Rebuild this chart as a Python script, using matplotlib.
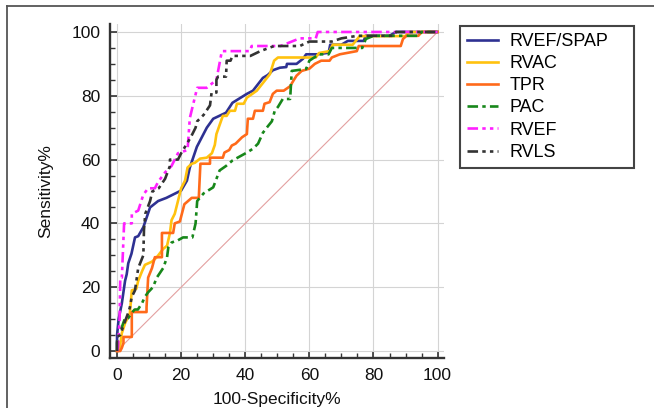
import matplotlib
matplotlib.use("Agg")
import matplotlib.pyplot as plt
from matplotlib.lines import Line2D
from matplotlib.ticker import MultipleLocator

plt.rcParams['font.family'] = ['Liberation Sans', 'DejaVu Sans']

# ---- data (100-Specificity %, Sensitivity %) ----
rvef_spap_x = [0, 0, 0.5, 1.5, 2.5, 3, 3.5, 4.5, 5.6, 6.6, 8.2, 10.3, 12.8, 15.4, 20, 21.8, 22.7, 24.9, 28, 30, 34, 36, 40.5, 42.4, 45.5, 47, 48.6, 50.8, 52.8, 53, 56, 58, 59, 62.7, 66, 66.5, 70, 72, 77, 77.5, 85, 87, 100]
rvef_spap_y = [0, 5, 10, 15, 22, 24, 27.5, 30.5, 35.6, 36, 38.8, 45, 47, 48, 50.3, 53.4, 57.5, 64, 70, 72.8, 74.7, 77.8, 80.6, 81.6, 85.6, 86.5, 88, 88.8, 89, 90, 90, 91.6, 93, 93, 93.5, 96, 96, 97.2, 97.2, 98.8, 98.8, 100, 100]

rvac_x = [0, 0.5, 1, 1.5, 2.5, 4, 4.6, 6, 6.6, 7.8, 8.7, 10.9, 12.4, 14.4, 15.6, 16.5, 17, 18, 19, 20, 21.2, 22, 23.3, 24.3, 25.9, 28, 29.6, 30.5, 31, 33, 34.2, 35.2, 36.8, 37.4, 39.5, 40.5, 43.6, 45.5, 47.7, 49, 50.2, 62, 63, 66.3, 67.3, 73.5, 75.7, 90, 91, 100]
rvac_y = [0, 0, 2, 5.6, 8.7, 11.8, 19, 19.5, 22, 25, 27, 28, 29.4, 32, 33, 37, 41, 43, 47, 51, 53.4, 57.5, 58.7, 59, 60.3, 60.6, 62, 64.6, 68, 73.7, 73.7, 75.3, 75.3, 77.5, 77.5, 79.4, 81.6, 84, 86.8, 91, 92, 92, 93.4, 94, 96, 96, 98.7, 98.7, 100, 100]

tpr_x = [0, 1, 1.5, 2, 2, 4.6, 4.6, 9.2, 9.2, 9.7, 10.9, 11.8, 14, 14, 17.5, 18, 19.6, 21, 23.3, 25.5, 26, 29, 29, 33, 33.5, 35, 35.8, 37, 39, 40.5, 40.8, 42.4, 43, 45.5, 46, 47.6, 48.6, 49.8, 52, 54, 55, 56, 57.6, 60, 61.7, 63.7, 66.3, 67, 69.5, 74.8, 75.4, 88.5, 89.2, 90.3, 94, 95, 100]
tpr_y = [0, 0, 1, 2.5, 4.4, 4.4, 12.2, 12.2, 13.7, 23, 26, 29.4, 29.4, 37, 37, 40, 40.6, 46, 48, 48, 58.7, 58.7, 60.6, 60.6, 62.2, 63, 64.4, 65, 67, 68, 72.8, 72.8, 75.3, 75.3, 77.5, 78, 80.6, 81.6, 81.6, 83, 84.7, 86.3, 87.8, 88.5, 90, 91, 91, 92, 93, 94, 95.6, 95.6, 97.8, 98.8, 98.8, 100, 100]

pac_x = [0, 0, 0.5, 1.5, 2.5, 3.5, 4.6, 5.5, 6.5, 7.8, 8.7, 9.7, 11.2, 12.4, 14.4, 15.6, 16, 17, 19, 20.6, 23.5, 24.5, 25, 27, 30, 32, 34, 36, 40.5, 42.4, 44, 45.5, 46.7, 48.3, 49.2, 50.2, 51.7, 54, 54.5, 59, 60, 63, 66, 67, 76.5, 77.6, 80, 94, 95, 100]
pac_y = [0, 2.5, 5.6, 7.5, 10.3, 10.3, 12, 13, 13, 15, 17, 18.4, 20, 23, 26, 29.4, 32.5, 34, 34.7, 35.6, 35.6, 40, 47, 49.4, 51.3, 56.6, 58, 59.7, 62.2, 63.4, 65, 68.4, 70, 72, 75.3, 76.5, 79, 79, 87.8, 88.4, 91, 93, 93, 95, 95, 97.8, 98.8, 98.8, 100, 100]

rvef_x = [0, 0.3, 0.8, 1, 1.5, 2.2, 4.6, 4.6, 6.6, 8.2, 9.7, 11.8, 12.8, 15, 17, 19, 22, 22.7, 25, 28, 31, 32.7, 41.4, 42, 51, 57, 62, 62.6, 100]
rvef_y = [0, 1, 10, 23, 23, 40, 40, 43, 44, 49, 51, 51, 53, 56, 58, 62, 63, 73, 82.5, 82.5, 85, 94, 94, 95.6, 95.6, 98, 98, 100, 100]

rvls_x = [0, 0, 1, 2, 3.5, 4, 4.6, 5.6, 6.6, 8.2, 8.4, 8.8, 10.3, 11, 13, 15, 16.5, 16.5, 19, 20, 23, 24.5, 25, 27, 29, 29.5, 31, 31, 31.5, 34, 34.2, 35.4, 36, 41.6, 44.7, 49, 57, 60, 67, 70, 75, 86, 87, 100]
rvls_y = [0, 4.4, 5, 8, 12, 13.7, 17, 19, 26, 30, 38, 43, 47, 50, 51, 54, 58, 60, 60, 62, 67, 70, 72, 74, 77, 81, 81, 85, 86, 86, 91, 91, 92.5, 92.5, 94, 95.6, 95.6, 97, 97, 98, 98.8, 98.8, 100, 100]

labels = ['RVEF/SPAP', 'RVAC', 'TPR', 'PAC', 'RVEF', 'RVLS']
ticks = [0, 20, 40, 60, 80, 100]

W, H = 654, 408
fig = plt.figure(figsize=(W / 100, H / 100), dpi=100)
fig.patch.set_facecolor('white')

ax = fig.add_axes([110 / W, 1 - 358 / H, (444 - 110) / W, (358 - 24) / H])
ax.set_xlim(-2.2, 102)
ax.set_ylim(-2.2, 102.5)

ax.grid(True, color='#d4d4d4', linewidth=0.8, zorder=0)
ax.set_axisbelow(True)
ax.plot([0, 100], [0, 100], color='#e3a0a0', linewidth=0.8, zorder=1)

dash_dot = (0, (4, 1.6, 1.3, 1.6))
dash_dot_dot = (0, (4, 1.6, 1.3, 1.6, 1.3, 1.6))
series = [
    (rvef_spap_x, rvef_spap_y, '#2e3192', '-'),
    (rvac_x, rvac_y, '#ffc20e', '-'),
    (tpr_x, tpr_y, '#ff6a1a', '-'),
    (pac_x, pac_y, '#17871a', dash_dot),
    (rvef_x, rvef_y, '#ff20ff', dash_dot_dot),
    (rvls_x, rvls_y, '#333333', dash_dot_dot),
]
handles = []
for (xs, ys, c, ls), lab in zip(series, labels):
    ax.plot(xs, ys, color=c, linestyle=ls, linewidth=1.9, zorder=3)
    handles.append(Line2D([], [], color=c, linestyle=ls, linewidth=1.9, label=lab))

for s in ['top', 'right']:
    ax.spines[s].set_visible(False)
for s in ['left', 'bottom']:
    ax.spines[s].set_color('#333333')
    ax.spines[s].set_linewidth(1.7)

ax.set_xticks(ticks)
ax.set_yticks(ticks)
ax.xaxis.set_minor_locator(MultipleLocator(5))
ax.yaxis.set_minor_locator(MultipleLocator(5))
ax.tick_params(which='major', direction='in', length=5, width=1.2, color='#333333',
               labelsize=12.5, pad=7, labelcolor='#111111')
ax.tick_params(which='minor', direction='in', length=3.5, width=1.0, color='#333333')

ax.set_xlabel('100-Specificity%', fontsize=12.5, color='#111111', labelpad=7)
ax.set_ylabel('Sensitivity%', fontsize=12.5, color='#111111', labelpad=13)

leg = ax.legend(handles=handles, loc='upper left',
                bbox_to_anchor=(460 / W, 1 - 162 / H, 174 / W, 136 / H),
                bbox_transform=fig.transFigure, mode='expand', borderaxespad=0,
                frameon=True, fancybox=False, framealpha=1, edgecolor='#444444',
                fontsize=12.9, handlelength=1.75, handletextpad=0.65,
                labelspacing=0.29, borderpad=0.38)
leg.get_frame().set_linewidth(1.5)

# outer figure border (top and left)
fig.add_artist(Line2D([7 / W, 7 / W], [0, 1 - 6 / H], transform=fig.transFigure,
                      color='#555555', linewidth=1.3))
fig.add_artist(Line2D([7 / W, 1], [1 - 6 / H, 1 - 6 / H], transform=fig.transFigure,
                      color='#555555', linewidth=1.3))

fig.savefig('out.png', dpi=100)
